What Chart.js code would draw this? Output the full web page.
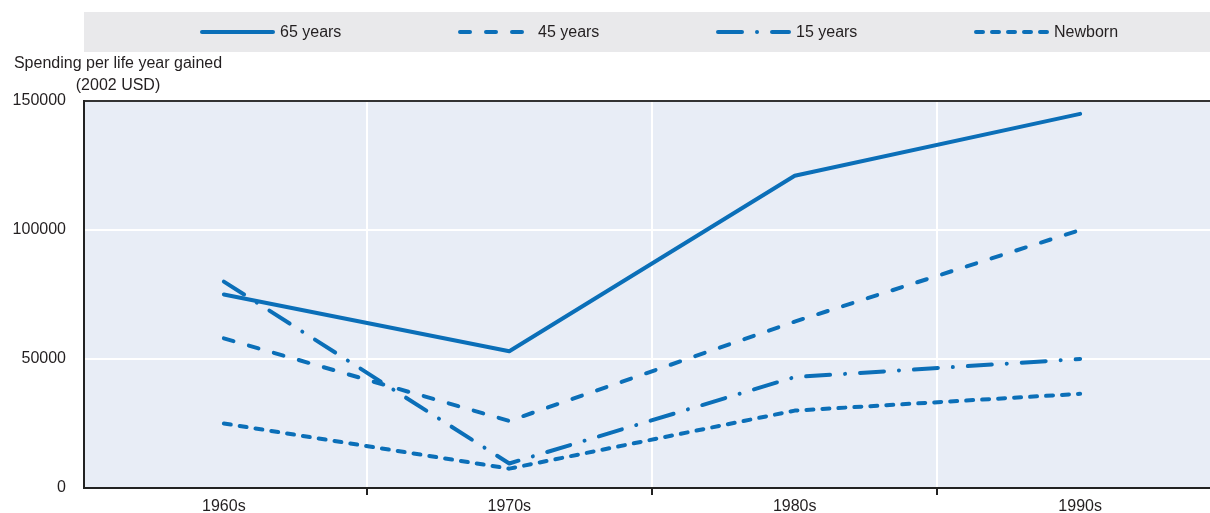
<!DOCTYPE html>
<html>
<head>
<meta charset="utf-8">
<script src="https://cdn.jsdelivr.net/npm/chart.js@4/dist/chart.umd.min.js"></script>
<style>
  html, body { margin: 0; padding: 0; background: #fff; }
  #wrap { width: 1210px; height: 513px; }
</style>
</head>
<body>
<div id="wrap"><canvas id="myChart" width="1210" height="513"></canvas></div>
<script>
// Data
const categories = ['1960s', '1970s', '1980s', '1990s'];
const age65 = [75000, 53000, 121000, 145000];
const age45 = [58000, 26000, 64500, 100000];
const age15 = [80000, 9500, 43000, 50000];
const newborn = [25000, 7500, 30000, 36500];
const yTicks = [0, 50000, 100000, 150000];
const yTitle = ['Spending per life year gained', '(2002 USD)'];

const blue = '#0b6fb8';
const ink = '#231f20';
const fontFamily = "'Liberation Sans', Arial, sans-serif";

Chart.defaults.font.family = fontFamily;
Chart.defaults.font.size = 16;
Chart.defaults.color = ink;

const toPoints = (arr) => arr.map((v, i) => ({ x: i, y: v }));

const lineSet = (label, values, dash) => ({
  label,
  data: toPoints(values),
  borderColor: blue,
  backgroundColor: blue,
  borderWidth: 4,
  borderDash: dash,
  borderCapStyle: 'round',
  borderJoinStyle: 'round',
  pointRadius: 0,
  fill: false,
  tension: 0,
});

const data = {
  datasets: [
    lineSet('65 years', age65, []),
    lineSet('45 years', age45, [10, 16]),
    lineSet('15 years', age15, [24, 15, 0.01, 15]),
    lineSet('Newborn', newborn, [7, 9]),
  ],
};

// backgrounds, legend band and axis title
const decor = {
  id: 'decor',
  beforeDraw(chart) {
    const { ctx, chartArea } = chart;
    ctx.save();
    ctx.fillStyle = '#e9e9eb';
    ctx.fillRect(chartArea.left, 12, chartArea.right - chartArea.left, 40);
    ctx.fillStyle = '#e8edf6';
    ctx.fillRect(chartArea.left, chartArea.top, chartArea.right - chartArea.left, chartArea.bottom - chartArea.top);
    ctx.restore();
  },
  afterDraw(chart) {
    const { ctx } = chart;
    ctx.save();
    // legend
    ctx.font = '16px ' + fontFamily;
    ctx.textBaseline = 'middle';
    chart.data.datasets.forEach((ds, i) => {
      const x0 = 200 + i * 258;
      const y = 32;
      ctx.strokeStyle = ds.borderColor;
      ctx.lineWidth = ds.borderWidth;
      ctx.lineCap = ds.borderCapStyle;
      ctx.setLineDash(ds.borderDash);
      ctx.beginPath();
      ctx.moveTo(x0 + 2, y);
      ctx.lineTo(x0 + 73, y);
      ctx.stroke();
      ctx.setLineDash([]);
      ctx.fillStyle = ink;
      ctx.textAlign = 'left';
      ctx.fillText(ds.label, x0 + 80, y + 1);
    });
    // y axis title
    ctx.textAlign = 'center';
    ctx.fillText(yTitle[0], 118, 64);
    ctx.fillText(yTitle[1], 118, 86);
    ctx.restore();
  },
};

const config = {
  type: 'line',
  data,
  plugins: [decor],
  options: {
    responsive: false,
    animation: false,
    layout: { padding: { top: 101, right: 0, bottom: 0, left: 0 } },
    plugins: {
      legend: { display: false },
      tooltip: { enabled: false },
    },
    scales: {
      x: {
        type: 'linear',
        min: -0.49,
        max: 3.455,
        afterBuildTicks: (axis) => {
          axis.ticks = [0, 0.5, 1, 1.5, 2, 2.5, 3].map((v) => ({ value: v }));
        },
        afterFit: (scale) => { scale.height = 25; },
        ticks: {
          autoSkip: false,
          maxRotation: 0,
          padding: 2,
          color: ink,
          callback: (v) => (Number.isInteger(v) ? categories[v] : ''),
        },
        grid: {
          color: (c) => (c.tick && !Number.isInteger(c.tick.value) ? '#ffffff' : 'rgba(0,0,0,0)'),
          tickColor: (c) => (c.tick && !Number.isInteger(c.tick.value) ? '#222' : 'rgba(0,0,0,0)'),
          lineWidth: 2,
          tickWidth: 2,
          tickLength: 7,
        },
        border: { display: true, color: '#222', width: 2 },
      },
      y: {
        min: 0,
        max: 150000,
        afterBuildTicks: (axis) => {
          axis.ticks = yTicks.map((v) => ({ value: v }));
        },
        afterFit: (scale) => { scale.width = 84; },
        ticks: {
          padding: 2,
          color: ink,
          callback: (v) => String(v),
        },
        grid: {
          drawTicks: true,
          tickLength: 16,
          tickColor: 'rgba(0,0,0,0)',
          color: (c) => (c.tick && c.tick.value === 150000 ? '#333' : '#ffffff'),
          lineWidth: 2,
        },
        border: { display: true, color: '#222', width: 2 },
      },
    },
  },
};

const myChart = new Chart(document.getElementById('myChart'), config);
</script>
</body>
</html>
